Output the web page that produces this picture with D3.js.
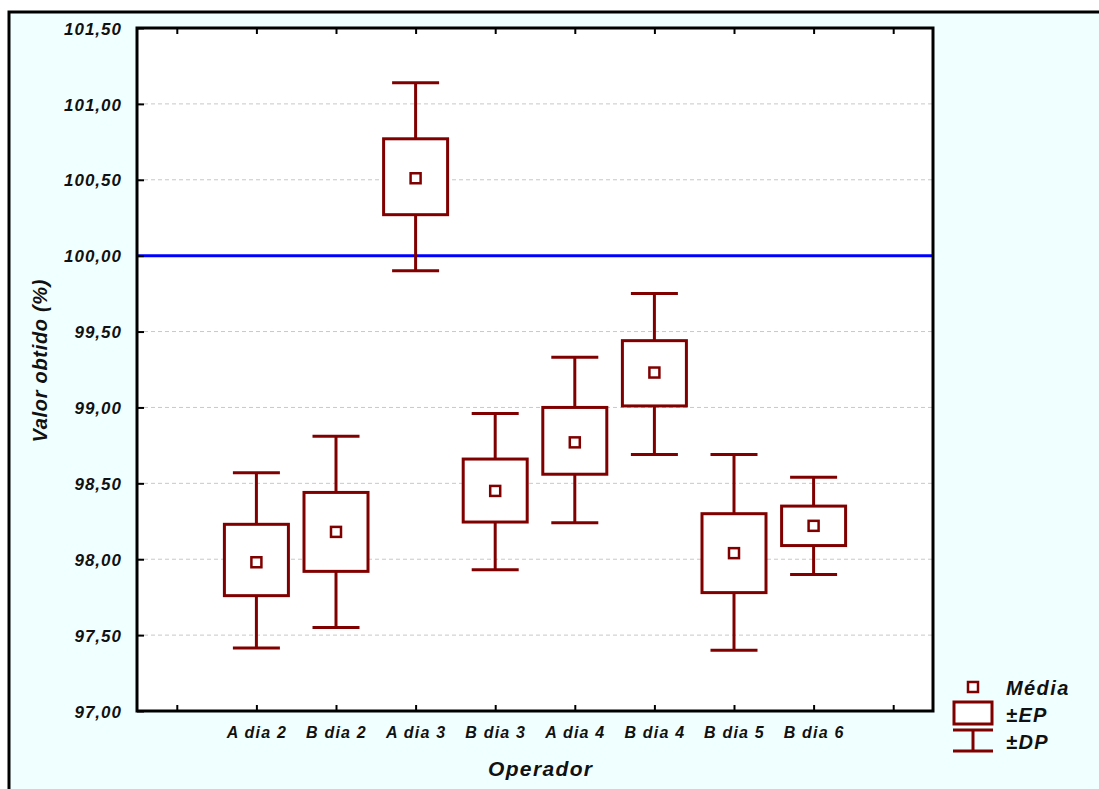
<!DOCTYPE html>
<html><head><meta charset="utf-8">
<script src="https://cdn.jsdelivr.net/npm/d3@7"></script>
<style>body{margin:0;background:#fff}svg{display:block}</style>
</head><body>
<script>
const categories = ["A dia 2","B dia 2","A dia 3","B dia 3","A dia 4","B dia 4","B dia 5","B dia 6"];
const mean   = [97.98, 98.18, 100.51, 98.45, 98.77, 99.23, 98.04, 98.22];
const epLow  = [97.76, 97.92, 100.27, 98.245, 98.56, 99.01, 97.78, 98.09];
const epHigh = [98.23, 98.44, 100.77, 98.66, 99.00, 99.44, 98.30, 98.35];
const dpLow  = [97.415, 97.55, 99.90, 97.93, 98.24, 98.69, 97.40, 97.90];
const dpHigh = [98.57, 98.81, 101.14, 98.96, 99.33, 99.75, 98.69, 98.54];
const yTicks = [97.0, 97.5, 98.0, 98.5, 99.0, 99.5, 100.0, 100.5, 101.0, 101.5];
const reference = 100.0;

const W = 1099, H = 789;
const red = "#800000";
const font = "'Liberation Sans', Arial, sans-serif";
const svg = d3.select("body").append("svg").attr("width", W).attr("height", H);

// outer frame
svg.append("rect").attr("x", 9).attr("y", 12).attr("width", W + 20).attr("height", H + 20)
  .attr("fill", "#f0ffff").attr("stroke", "#000").attr("stroke-width", 3);

const L = 137, R = 933, T = 28, B = 711;
const slots = ["_s0", ...categories, "_s1"];
const x = d3.scalePoint().domain(slots).range([L, R]).padding(0.5);
const y = d3.scaleLinear().domain([97, 101.5]).range([B, T]);

svg.append("rect").attr("x", L).attr("y", T).attr("width", R - L).attr("height", B - T).attr("fill", "#fff");

// grid
svg.append("g").selectAll("line").data(yTicks.filter(v => v > 97 && v < 101.5)).join("line")
  .attr("x1", L).attr("x2", R).attr("y1", d => y(d)).attr("y2", d => y(d))
  .attr("stroke", "#c8c8c8").attr("stroke-width", 1).attr("stroke-dasharray", "4,3");

// reference line
svg.append("line").attr("x1", L).attr("x2", R).attr("y1", y(reference)).attr("y2", y(reference))
  .attr("stroke", "#0000ff").attr("stroke-width", 3);

// axes
const fmt = d => d3.format(".2f")(d).replace(".", ",");
const yAxis = svg.append("g").attr("transform", `translate(${L},0)`)
  .call(d3.axisLeft(y).tickValues(yTicks).tickFormat(fmt).tickSize(-7).tickPadding(15));
yAxis.select(".domain").remove();
yAxis.selectAll("line").attr("stroke", "#000").attr("stroke-width", 2);
yAxis.selectAll("text").attr("font-family", font).attr("font-size", 17).attr("font-weight", "bold")
  .attr("font-style", "italic").attr("fill", "#111").attr("letter-spacing", "1px").attr("dy", "0.36em");

const xAxisB = svg.append("g").attr("transform", `translate(0,${B})`)
  .call(d3.axisBottom(x).tickValues(slots).tickFormat(d => d.startsWith("_") ? "" : d).tickSize(-6).tickPadding(16));
xAxisB.select(".domain").remove();
xAxisB.selectAll("line").attr("stroke", "#000").attr("stroke-width", 2);
xAxisB.selectAll("text").attr("font-family", font).attr("font-size", 16).attr("font-weight", "bold")
  .attr("font-style", "italic").attr("fill", "#111").attr("letter-spacing", "1.2px");

const xAxisT = svg.append("g").attr("transform", `translate(0,${T})`)
  .call(d3.axisTop(x).tickValues(slots).tickFormat("").tickSize(-6));
xAxisT.select(".domain").remove();
xAxisT.selectAll("line").attr("stroke", "#000").attr("stroke-width", 2);

// plot border
svg.append("rect").attr("x", L).attr("y", T).attr("width", R - L).attr("height", B - T)
  .attr("fill", "none").attr("stroke", "#000").attr("stroke-width", 3);

// boxes
const bw = 64, cw = 47;
const g = svg.append("g");
categories.forEach((c, i) => {
  const cx = x(c);
  const gg = g.append("g").attr("stroke", red).attr("stroke-width", 3).attr("fill", "none");
  gg.append("line").attr("x1", cx).attr("x2", cx).attr("y1", y(dpHigh[i])).attr("y2", y(epHigh[i]));
  gg.append("line").attr("x1", cx).attr("x2", cx).attr("y1", y(epLow[i])).attr("y2", y(dpLow[i]));
  gg.append("line").attr("x1", cx - cw/2).attr("x2", cx + cw/2).attr("y1", y(dpHigh[i])).attr("y2", y(dpHigh[i]));
  gg.append("line").attr("x1", cx - cw/2).attr("x2", cx + cw/2).attr("y1", y(dpLow[i])).attr("y2", y(dpLow[i]));
  gg.append("rect").attr("x", cx - bw/2).attr("y", y(epHigh[i])).attr("width", bw)
    .attr("height", y(epLow[i]) - y(epHigh[i])).attr("fill", "#fff");
  gg.append("rect").attr("x", cx - 5).attr("y", y(mean[i]) - 5).attr("width", 10).attr("height", 10)
    .attr("fill", "#fff").attr("stroke-width", 2.5);
});

// axis titles
svg.append("text").attr("x", 540).attr("y", 776).attr("text-anchor", "middle")
  .attr("font-family", font).attr("font-size", 21).attr("font-weight", "bold").attr("font-style", "italic")
  .attr("textLength", 104).attr("lengthAdjust", "spacing").attr("fill", "#111").text("Operador");
svg.append("text").attr("transform", `translate(47,361) rotate(-90)`).attr("text-anchor", "middle")
  .attr("font-family", font).attr("font-size", 20).attr("font-weight", "bold").attr("font-style", "italic")
  .attr("textLength", 163).attr("lengthAdjust", "spacing").attr("fill", "#111").text("Valor obtido (%)");

// legend
const lg = svg.append("g").attr("stroke", red).attr("fill", "none");
lg.append("rect").attr("x", 968).attr("y", 682).attr("width", 10).attr("height", 10).attr("stroke-width", 2.5).attr("fill", "#fff");
lg.append("rect").attr("x", 954).attr("y", 702).attr("width", 38).attr("height", 22).attr("stroke-width", 3).attr("fill", "#fff");
lg.append("line").attr("x1", 953).attr("x2", 993).attr("y1", 730).attr("y2", 730).attr("stroke-width", 3);
lg.append("line").attr("x1", 953).attr("x2", 993).attr("y1", 751).attr("y2", 751).attr("stroke-width", 3);
lg.append("line").attr("x1", 973).attr("x2", 973).attr("y1", 730).attr("y2", 751).attr("stroke-width", 3);
const legendLabels = ["Média", "±EP", "±DP"];
const legendY = [695, 722, 749];
svg.append("g").selectAll("text").data(legendLabels).join("text")
  .attr("x", 1006).attr("y", (d, i) => legendY[i])
  .attr("font-family", font).attr("font-size", 20).attr("font-weight", "bold").attr("font-style", "italic")
  .attr("letter-spacing", "1.4px").attr("fill", "#111").text(d => d);
</script>
</body></html>
